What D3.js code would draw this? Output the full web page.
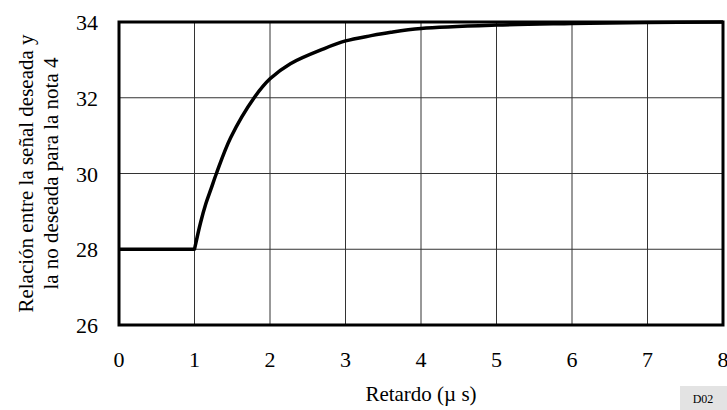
<!DOCTYPE html>
<html>
<head>
<meta charset="UTF-8">
<script src="https://cdn.jsdelivr.net/npm/d3@7/dist/d3.min.js"></script>
<style>
  svg, svg text, svg tspan { font-family: 'Liberation Serif', 'Times New Roman', Tinos, Times, serif !important; }
</style>
</head>
<body style="margin:0">
<script>
// delay in microseconds and the ratio
var delay = [0, 1, 1.08, 1.15, 1.22, 1.29, 1.48, 1.79, 2, 2.27, 2.72, 3, 3.34, 3.6, 4, 5, 6, 7, 8];
var ratio = [28, 28, 28.7, 29.2, 29.6, 30, 30.95, 32, 32.5, 32.9, 33.3, 33.5, 33.64, 33.73, 33.83, 33.92, 33.96, 33.99, 34];

var xTicks = [0, 1, 2, 3, 4, 5, 6, 7, 8];
var yTicks = [26, 28, 30, 32, 34];

var yLabelLines = ["Relación entre la señal deseada y", "la no deseada para la nota 4"];
var xLabel = "Retardo (µ s)";
var figCode = "D02";

var fontName = "Liberation Serif, Times New Roman, Tinos, Times, serif";

var width = 727, height = 410;
var margin = {top: 22, right: 4, bottom: 85, left: 119};

var svg = d3.select("body").append("svg")
    .attr("width", width)
    .attr("height", height)
    .attr("font-family", fontName);

var x = d3.scaleLinear().domain([0, 8]).range([margin.left, width - margin.right]);
var y = d3.scaleLinear().domain([26, 34]).range([height - margin.bottom, margin.top]);

// grid
svg.append("g").selectAll("line")
    .data(xTicks.slice(1, -1))
    .enter().append("line")
    .attr("x1", d => x(d)).attr("x2", d => x(d))
    .attr("y1", y(26)).attr("y2", y(34))
    .attr("stroke", "#333").attr("stroke-width", 1);

svg.append("g").selectAll("line")
    .data(yTicks.slice(1, -1))
    .enter().append("line")
    .attr("x1", x(0)).attr("x2", x(8))
    .attr("y1", d => y(d)).attr("y2", d => y(d))
    .attr("stroke", "#333").attr("stroke-width", 1);

// curve: flat part up to 1 us, then the rise
var pts = delay.map((d, i) => [d, ratio[i]]);
var flat = pts.filter(d => d[0] <= 1);
var rise = pts.filter(d => d[0] >= 1);

var flatLine = d3.line().x(d => x(d[0])).y(d => y(d[1]));
var riseLine = d3.line()
    .x(d => x(d[0]))
    .y(d => y(d[1]))
    .curve(d3.curveCatmullRom.alpha(0.5));

svg.append("path")
    .attr("d", flatLine(flat) + riseLine(rise).replace(/^M/, "L"))
    .attr("fill", "none")
    .attr("stroke", "#000")
    .attr("stroke-width", 3.5)
    .attr("stroke-linejoin", "round");

// frame
svg.append("rect")
    .attr("x", x(0)).attr("y", y(34))
    .attr("width", x(8) - x(0)).attr("height", y(26) - y(34))
    .attr("fill", "none").attr("stroke", "#000").attr("stroke-width", 3);

// tick labels
svg.append("g").selectAll("text")
    .data(xTicks)
    .enter().append("text")
    .attr("x", d => x(d))
    .attr("y", 367)
    .attr("text-anchor", "middle")
    .attr("font-size", 22)
    .text(d => d);

svg.append("g").selectAll("text")
    .data(yTicks)
    .enter().append("text")
    .attr("x", 98)
    .attr("y", d => y(d) + 8)
    .attr("text-anchor", "end")
    .attr("font-size", 22)
    .text(d => d);

// axis titles
svg.append("text")
    .attr("x", (x(0) + x(8)) / 2)
    .attr("y", 401)
    .attr("text-anchor", "middle")
    .attr("font-size", 21)
    .text(xLabel);

var yl = svg.append("text")
    .attr("transform", "translate(33," + ((y(26) + y(34)) / 2) + ") rotate(-90)")
    .attr("text-anchor", "middle")
    .attr("font-size", 21);
yl.selectAll("tspan")
    .data(yLabelLines)
    .enter().append("tspan")
    .attr("x", 0)
    .attr("dy", (d, i) => i === 0 ? 0 : 25)
    .text(d => d);

// figure code
svg.append("rect")
    .attr("x", 680).attr("y", 386)
    .attr("width", 47).attr("height", 24)
    .attr("fill", "#e3e3e3");
svg.append("text")
    .attr("x", 703).attr("y", 403)
    .attr("text-anchor", "middle")
    .attr("font-size", 12)
    .text(figCode);
</script>
</body>
</html>
